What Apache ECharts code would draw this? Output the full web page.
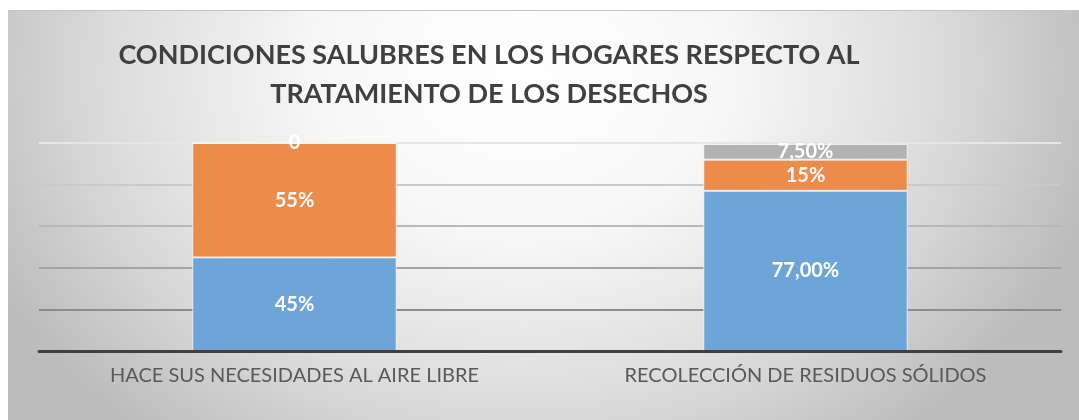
<!DOCTYPE html>
<html>
<head>
<meta charset="utf-8">
<script src="https://cdn.jsdelivr.net/npm/echarts@6/dist/echarts.min.js"></script>
<style>
  html, body { margin: 0; padding: 0; background: #fff; }
  #wrap { position: relative; width: 1079px; height: 420px; overflow: hidden; }
  #panel {
    position: absolute; left: 8px; top: 10px; width: 1071px; height: 410px;
    border-top: 1px solid #c4c4c4;
    background: radial-gradient(ellipse 55% 115% at 48% 15%, #ffffff 0%, #f7f7f7 35%, #dcdcdc 70%, #bcbcbc 100%);
  }
  #chart { position: absolute; left: 0; top: 0; width: 1079px; height: 420px; }
</style>
</head>
<body>
<div id="wrap">
  <div id="panel"></div>
  <div id="chart"></div>
</div>
<script>
// datos
const categorias = ['HACE SUS NECESIDADES AL AIRE LIBRE', 'RECOLECCIÓN DE RESIDUOS SÓLIDOS'];
const serieAzul = [45, 77];
const serieNaranja = [55, 15];
const serieGris = [0, 7.5];
const etiquetasAzul = ['45%', '77,00%'];
const etiquetasNaranja = ['55%', '15%'];
const etiquetasGris = ['0', '7,50%'];
const titulo = 'CONDICIONES SALUBRES EN LOS HOGARES RESPECTO AL\nTRATAMIENTO DE LOS DESECHOS';

const chart = echarts.init(document.getElementById('chart'), null, { renderer: 'canvas' });

function etiqueta(textos) {
  return {
    show: true,
    position: 'inside',
    color: '#ffffff',
    fontFamily: 'Lato',
    fontWeight: 'bold',
    fontSize: 20,
    formatter: p => textos[p.dataIndex]
  };
}

function serie(nombre, datos, color, textos) {
  return {
    name: nombre,
    type: 'bar',
    stack: 'total',
    barWidth: '40%',
    data: datos,
    itemStyle: { color: color, borderColor: 'rgba(255,255,255,0.7)', borderWidth: 1 },
    label: etiqueta(textos)
  };
}

const option = {
  backgroundColor: 'transparent',
  animation: false,
  graphic: [
    {
      type: 'text',
      x: 489,
      y: 75,
      style: {
        text: titulo,
        fill: '#404040',
        fontFamily: 'Lato',
        fontWeight: 'bold',
        fontSize: 27,
        lineHeight: 39,
        textAlign: 'center',
        textVerticalAlign: 'middle'
      }
    }
  ],
  grid: { left: 39, right: 18, top: 143, bottom: 69 },
  xAxis: {
    type: 'category',
    data: categorias,
    axisLine: { show: true, lineStyle: { color: '#404040', width: 3 } },
    axisTick: { show: false },
    axisLabel: {
      interval: 0,
      color: '#595959',
      fontFamily: 'Lato',
      fontSize: 20,
      margin: 15
    },
    z: 5
  },
  yAxis: {
    type: 'value',
    min: 0,
    max: 100,
    interval: 20,
    axisLabel: { show: false },
    axisLine: { show: false },
    axisTick: { show: false },
    splitLine: {
      show: true,
      lineStyle: {
        width: 2,
        color: ['#808080', '#8c8c8c', '#a4a4a4', '#b8b8b8', '#cacaca', '#e6e6e6']
      }
    }
  },
  series: [
    serie('Azul', serieAzul, '#6ea5d8', etiquetasAzul),
    serie('Naranja', serieNaranja, '#ed8b4a', etiquetasNaranja),
    serie('Gris', serieGris, '#b2b2b2', etiquetasGris)
  ]
};

chart.setOption(option);
</script>
</body>
</html>
